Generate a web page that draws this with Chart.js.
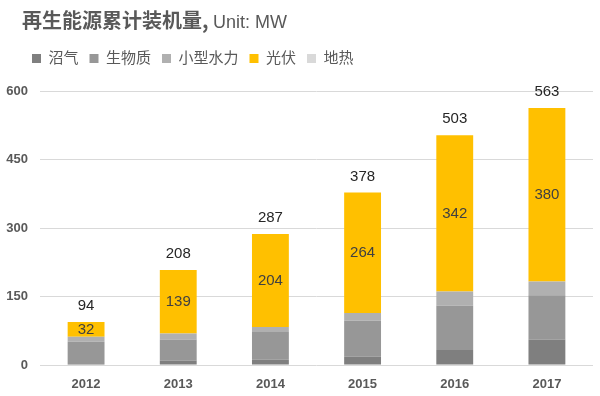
<!DOCTYPE html>
<html><head><meta charset="utf-8">
<script src="https://cdn.jsdelivr.net/npm/chart.js@4/dist/chart.umd.min.js"></script>
<style>
html,body{margin:0;padding:0;background:#fff;}
#wrap{position:relative;width:600px;height:396px;}
#title{position:absolute;left:22px;top:5px;font-family:'Noto Sans CJK SC',sans-serif;color:#595959;font-size:20px;font-weight:bold;white-space:nowrap;}
#title span{font-family:'Liberation Sans','Noto Sans CJK SC',sans-serif;font-weight:normal;font-size:18px;}
canvas{position:absolute;left:0;top:0;}
</style></head><body>
<div id="wrap"><canvas id="c" width="600" height="396"></canvas>
<div id="title">再生能源累计装机量, <span>Unit: MW</span></div></div>
<script>
const years = ['2012','2013','2014','2015','2016','2017'];
const seriesNames = ['沼气','生物质','小型水力','光伏','地热'];
const biogas  = [2, 10, 12, 18, 33, 56];
const biomass = [49, 46, 60, 79, 97, 97];
const hydro   = [11, 13, 11, 17, 31, 30];
const solar   = [32, 139, 204, 264, 342, 380];
const geo     = [0, 0, 0, 0, 0, 0];
const totals  = [94, 208, 287, 378, 503, 563];
const yTicks  = [0, 150, 300, 450, 600];
const colors  = ['#7f7f7f', '#979797', '#b0b0b0', '#ffc000', '#d9d9d9'];

const FONT = "'Liberation Sans','Noto Sans CJK SC',sans-serif";

const legendTweak = {
  id: 'legendTweak',
  beforeInit(chart) {
    const lg = chart.legend;
    if (lg && !lg._patched) {
      const orig = lg.fit;
      lg.fit = function () { orig.call(this); this.height += 15; };
      lg._patched = true;
    }
  },
  afterLayout(chart) {
    const lg = chart.legend;
    if (lg) { lg.left += 21; lg.right += 21; }
  }
};

const labelPlugin = {
  id: 'labels',
  afterDatasetsDraw(chart) {
    const ctx = chart.ctx;
    const y = chart.scales.y;
    ctx.save();
    ctx.textAlign = 'center';
    ctx.textBaseline = 'middle';
    ctx.font = '15px ' + FONT;
    const solarMeta = chart.getDatasetMeta(3);
    solarMeta.data.forEach((bar, i) => {
      ctx.fillStyle = '#404040';
      ctx.fillText(String(solar[i]), bar.x, (bar.y + bar.base) / 2);
      ctx.fillStyle = '#262626';
      ctx.fillText(String(totals[i]), bar.x, y.getPixelForValue(totals[i]) - 16);
    });
    ctx.restore();
  }
};

const data = [biogas, biomass, hydro, solar, geo];
new Chart(document.getElementById('c'), {
  type: 'bar',
  data: {
    labels: years,
    datasets: seriesNames.map((n, k) => ({
      label: n, data: data[k], backgroundColor: colors[k],
      barPercentage: 0.8, categoryPercentage: 0.5
    }))
  },
  options: {
    responsive: false, animation: false,
    layout: { padding: { top: 40, left: 0, right: 7, bottom: 0 } },
    plugins: {
      legend: {
        position: 'top', align: 'start',
        labels: { boxWidth: 9, boxHeight: 9, color: '#595959', padding: 11,
          font: { size: 15, family: FONT } }
      },
      tooltip: { enabled: false }
    },
    scales: {
      x: { stacked: true, grid: { display: false, drawTicks: false }, border: { display: false },
        afterFit: (ax) => { ax.height = 31; },
        ticks: { color: '#595959', font: { size: 13, weight: 'bold', family: FONT }, padding: 12,
          maxRotation: 0, minRotation: 0 } },
      y: { stacked: true, min: 0, max: 600,
        afterBuildTicks: (ax) => { ax.ticks = yTicks.map(v => ({ value: v })); },
        afterFit: (ax) => { ax.width = 40; },
        grid: { color: '#d9d9d9', drawTicks: false }, border: { display: false },
        ticks: { color: '#595959', font: { size: 13, weight: 'bold', family: FONT }, padding: 12 } }
    }
  },
  plugins: [legendTweak, labelPlugin]
});
</script></body></html>
